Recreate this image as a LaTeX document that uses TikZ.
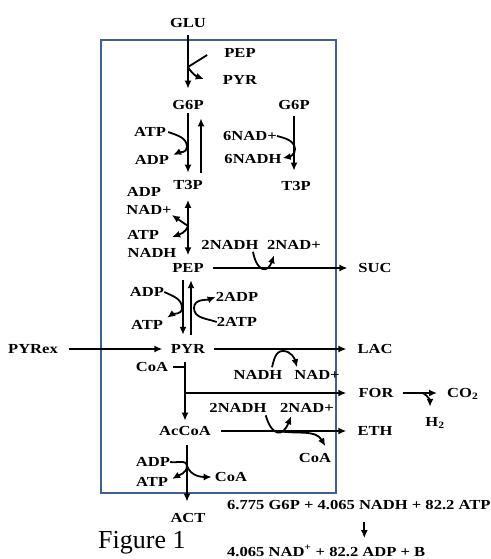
\documentclass[tikz,border=0pt]{standalone}
\usepackage{fontspec}
\setmainfont{Liberation Serif}
\newfontfamily\labfont[FakeStretch=1.2]{Liberation Serif}
\usetikzlibrary{arrows.meta,calc}
\definecolor{boxblue}{RGB}{66,96,140}
\begin{document}
\begin{tikzpicture}[x=1pt,y=1pt,
  lbl/.style={font=\labfont\bfseries\fontsize{13.8}{15}\selectfont, inner sep=0pt},
  ln/.style={line width=1.8pt},
  arr/.style={line width=1.8pt,-{Latex[length=8pt,width=7pt]}},
  darr/.style={line width=1.8pt,{Latex[length=8pt,width=7pt]}-{Latex[length=8pt,width=7pt]}},
  boxline/.style={draw=boxblue,line width=1.8pt}]
\useasboundingbox (0,0) rectangle (490,-559);
\fill[white] (0,0) rectangle (490,-559);
\draw[boxline] (101,-40) rectangle (336,-493);

% labels
\node[lbl] (GLU) at (188,-23) {GLU};
\node[lbl] (PEPa) at (240,-53) {PEP};
\node[lbl] (PYRa) at (240,-80) {PYR};
\node[lbl] (G6Pa) at (188,-105) {G6P};
\node[lbl] (G6Pb) at (294,-105) {G6P};
\node[lbl] (ATPa) at (150,-132) {ATP};
\node[lbl] (ADPa) at (152,-160) {ADP};
\node[lbl] (NADa) at (250,-136) {6NAD+};
\node[lbl] (NADHa) at (253,-159) {6NADH};
\node[lbl] (T3Pa) at (188,-185) {T3P};
\node[lbl] (T3Pb) at (296,-186) {T3P};
\node[lbl] (ADPb) at (144,-192) {ADP};
\node[lbl] (NADb) at (149,-210) {NAD+};
\node[lbl] (ATPb) at (143,-235) {ATP};
\node[lbl] (NADHb) at (152,-253) {NADH};
\node[lbl] (NADHc) at (230,-245) {2NADH};
\node[lbl] (NADc) at (294,-245) {2NAD+};
\node[lbl] (PEP) at (188,-268) {PEP};
\node[lbl] (SUC) at (375,-268) {SUC};
\node[lbl] (ADPc) at (147,-292) {ADP};
\node[lbl] (ATPc) at (147,-325) {ATP};
\node[lbl] (ADPd) at (237,-297) {2ADP};
\node[lbl] (ATPd) at (237,-322) {2ATP};
\node[lbl] (PYRex) at (33,-349) {PYRex};
\node[lbl] (PYR) at (188,-349) {PYR};
\node[lbl] (LAC) at (375,-349) {LAC};
\node[lbl] (CoAa) at (152,-367) {CoA};
\node[lbl] (NADHd) at (258,-375) {NADH};
\node[lbl] (NADd) at (317,-375) {NAD+};
\node[lbl] (FOR) at (376,-393) {FOR};
\node[lbl,anchor=base west] (CO2) at (447,-397.5) {CO\textsubscript{2}};
\node[lbl,anchor=base] (H2) at (435,-426.5) {H\textsubscript{2}};
\node[lbl] (NADHe) at (238,-408) {2NADH};
\node[lbl] (NADe) at (307,-408) {2NAD+};
\node[lbl] (AcCoA) at (185,-431) {AcCoA};
\node[lbl] (ETH) at (375,-431) {ETH};
\node[lbl] (CoAb) at (315,-458) {CoA};
\node[lbl] (ADPe) at (153,-462) {ADP};
\node[lbl] (ATPe) at (152,-482) {ATP};
\node[lbl] (CoAc) at (231,-477) {CoA};
\node[lbl] (ACT) at (188,-518) {ACT};
\node[lbl,anchor=base west] (EQa) at (227,-509.5) {6.775 G6P + 4.065 NADH + 82.2 ATP};
\node[lbl,anchor=base west] (EQb) at (227,-556) {4.065 NAD\textsuperscript{+} + 82.2 ADP + B};
\node[font=\fontsize{26}{28}\selectfont, inner sep=0pt, anchor=base west] (FIG) at (98,-548) {Figure 1};

% GLU -> G6P with PEP -> PYR
\draw[arr,shorten <=7.5pt,shorten >=11.5pt] (GLU.south) -- (GLU.south |- G6Pa.north);
\coordinate (J1) at (188,-67);
\draw[ln] ($(PEPa.west)+(-17,-2)$) -- (J1);
\draw[arr] (J1) to[out=-60,in=160] ($(PYRa.west)+(-19,1)$);

% G6P <-> T3P (left)
\draw[arr,shorten <=3.5pt,shorten >=7.5pt] (G6Pa.south) -- (G6Pa.south |- T3Pa.north);
\draw[arr,shorten <=7.5pt,shorten >=8.5pt] ([xshift=13pt]T3Pa.north) -- ([xshift=13pt]T3Pa.north |- G6Pa.south);
\coordinate (J2) at (187,-147);
\draw[arr] ($(ATPa.east)+(2,0)$) to[out=-20,in=90] (J2) to[out=-90,in=25] ($(ADPa.east)+(4,5)$);

% G6P -> T3P (right)
\draw[arr,shorten <=6.5pt,shorten >=10.5pt] (G6Pb.south) -- (G6Pb.south |- T3Pb.north);
\coordinate (J3) at (295,-149);
\draw[arr] (NADa.east) to[out=-15,in=95] (J3) to[out=-85,in=10] ($(NADHa.east)+(1,1)$);

% T3P <-> PEP
\draw[darr,shorten <=10pt,shorten >=8pt] (T3Pa.south) -- (PEP.north);
\coordinate (J4) at (188,-226);
\draw[arr] (J4) -- ($(NADb.east)+(0,-5)$);
\draw[arr] (J4) to[out=-110,in=20] ($(ATPb.east)+(13,-2)$);

% PEP -> SUC
\draw[arr,shorten <=8.7pt,shorten >=10.8pt] (PEP) -- (SUC);
\draw[arr] ($(NADHc.south)+(23,-2)$) .. controls (257,-273) and (268,-273) .. ($(NADc.south west)+(7,-5.5)$);

% PEP <-> PYR
\draw[arr,shorten <=7.5pt,shorten >=9.5pt] ([xshift=-5pt]PEP.south) -- ([xshift=-5pt]PEP.south |- PYR.north);
\draw[arr,shorten <=9.5pt,shorten >=7.5pt] ([xshift=3pt]PYR.north) -- ([xshift=3pt]PYR.north |- PEP.south);
\coordinate (J6) at (182,-308);
\draw[arr] (ADPc.east) to[out=-25,in=90] (J6) to[out=-90,in=35] ($(ATPc.north east)+(4,2.5)$);
\coordinate (J7) at (194,-308);
\draw[arr] (ATPd.west) to[out=160,in=-90] (J7) to[out=90,in=-160] (ADPd.west);

% PYRex -> PYR -> LAC
\draw[arr,shorten <=10.7pt,shorten >=8.4pt] (PYRex) -- (PYR);
\draw[arr,shorten <=8.4pt,shorten >=10.9pt] (PYR) -- (LAC);
\coordinate (J8) at (283,-351);
\draw[arr] ($(NADHd.north)+(14,3)$) to[out=75,in=180] (J8) to[out=0,in=105] ($(NADd.north)+(-20,3)$);

% PYR -> AcCoA + FOR
\draw[arr,shorten <=8.5pt,shorten >=5.5pt] (AcCoA.north |- PYR.south) -- (AcCoA.north);
\draw[ln] ($(CoAa.east)+(5,0)$) -- (CoAa.east -| AcCoA.north);
\draw[arr,shorten >=12pt] (AcCoA.north |- FOR) -- (FOR);

% FOR -> CO2 + H2
\draw[arr,shorten <=9pt,shorten >=10pt] (FOR) -- (FOR -| CO2.west);
\coordinate (J9) at ($(FOR.east)!0.55!(CO2.west)$);
\draw[arr] (J9 |- FOR) to[out=-30,in=90] ($(H2.north)+(-5,10.5)$);

% AcCoA -> ETH
\draw[arr,shorten <=10pt,shorten >=11pt] (AcCoA) -- (ETH);
\draw[arr] ($(NADHe.south east)+(-1,-2.5)$) .. controls (272,-437) and (283,-437) .. ($(NADe.south west)+(11,-3.5)$);
\coordinate (J10) at (278,-431);
\draw[arr] (J10) to[out=-10,in=120] ($(CoAb.north east)+(-6,7)$);

% AcCoA -> ACT
\draw[arr,shorten <=9.5pt,shorten >=11.5pt] ([xshift=2pt]AcCoA.south) -- ([xshift=2pt]AcCoA.south |- ACT.north);
\coordinate (J11) at (187,-466);
\draw[arr] (ADPe.east) to[out=-10,in=95] (J11) to[out=-95,in=30] ($(ATPe.east)+(4,3)$);
\draw[arr] (J11) to[out=-70,in=180] ($(CoAc.west)+(-3,0)$);

% equation arrow
\draw[arr,shorten <=12pt,shorten >=7pt] ([xshift=5.5pt]EQa.south) -- ([xshift=5.5pt]EQa.south |- EQb.north);
\end{tikzpicture}
\end{document}
